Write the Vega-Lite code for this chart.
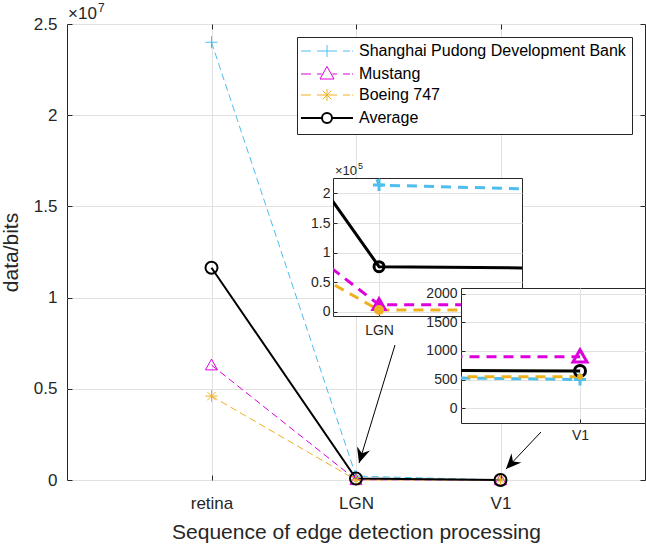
{
  "$schema": "https://vega.github.io/schema/vega-lite/v6.json",
  "autosize": {"type": "none"},
  "padding": {"left": 67, "top": 24, "right": 579, "bottom": 520},
  "background": "white",
  "config": {
    "font": "Liberation Sans",
    "view": {"stroke": null},
    "axis": {
      "labelFont": "Liberation Sans", "titleFont": "Liberation Sans",
      "labelColor": "#262626", "titleColor": "#262626",
      "tickColor": "#262626", "domainColor": "#262626",
      "gridColor": "#e1e1e1", "gridWidth": 1, "gridOpacity": 1,
      "titleFontWeight": "normal", "domain": false, "tickWidth": 1
    }
  },
  "datasets": {
    "bits": [
      {"series": "Shanghai Pudong Development Bank", "stage": 1, "bits": 24000000},
      {"series": "Shanghai Pudong Development Bank", "stage": 2, "bits": 214000},
      {"series": "Shanghai Pudong Development Bank", "stage": 3, "bits": 500},
      {"series": "Mustang", "stage": 1, "bits": 6300000},
      {"series": "Mustang", "stage": 2, "bits": 12000},
      {"series": "Mustang", "stage": 3, "bits": 900},
      {"series": "Boeing 747", "stage": 1, "bits": 4600000},
      {"series": "Boeing 747", "stage": 2, "bits": 3000},
      {"series": "Boeing 747", "stage": 3, "bits": 550},
      {"series": "Average", "stage": 1, "bits": 11633333},
      {"series": "Average", "stage": 2, "bits": 76333},
      {"series": "Average", "stage": 3, "bits": 650}
    ]
  },
  "hconcat": [
    {
      "vconcat": [
        {
          "width": 578, "height": 456,
          "view": {"stroke": "#262626", "strokeWidth": 1},
          "data": {"name": "bits"},
          "resolve": {"axis": {"x": "independent", "y": "independent"}},
          "layer": [
            {
              "transform": [{"filter": "datum.series !== 'Average'"}],
              "mark": {"type": "line", "strokeWidth": 1, "strokeDash": [7, 4]},
              "encoding": {
                "x": {"field": "stage", "type": "quantitative",
                  "scale": {"domain": [0, 4], "nice": false, "zero": false},
                  "axis": {"values": [1, 2, 3], "labelExpr": "datum.value == 1 ? 'retina' : datum.value == 2 ? 'LGN' : 'V1'", "labelFontSize": 17, "tickSize": -5, "labelPadding": 20, "grid": true, "title": "Sequence of edge detection processing", "titleFontSize": 21, "titlePadding": 10}},
                "y": {"field": "bits", "type": "quantitative",
                  "scale": {"domain": [0, 25000000], "nice": false},
                  "axis": {"values": [0, 5000000, 10000000, 15000000, 20000000, 25000000], "labelExpr": "'' + datum.value / 10000000", "labelFontSize": 17, "tickSize": -5, "labelPadding": 15, "grid": true, "title": "data/bits", "titleFontSize": 21, "titlePadding": 12}},
                "color": {"field": "series", "type": "nominal",
                  "scale": {"domain": ["Shanghai Pudong Development Bank", "Mustang", "Boeing 747", "Average"], "range": ["#4DBEEE", "#DD00DD", "#EDB120", "#000000"]},
                  "legend": {
                    "title": null, "orient": "top-right", "offset": 13,
                    "fillColor": "white", "strokeColor": "#262626", "padding": 6,
                    "labelFont": "Liberation Sans", "labelFontSize": 16, "labelColor": "black", "labelLimit": 500,
                    "symbolSize": 324, "symbolOffset": 16, "labelOffset": 24, "rowPadding": 4,
                    "encode": {"symbols": {"update": {
                      "shape": {"signal": "datum.value === 'Average' ? 'M-2.889,0H-0.556M0.556,0H2.889M0.556,0A0.556,0.556 0 1,1 -0.556,0A0.556,0.556 0 1,1 0.556,0' : datum.value === 'Mustang' ? 'M-2.889,0H-1.778M-1.111,0H-0.6M0.6,0H1.111M1.778,0H2.556M2.778,0H2.889M0,-0.833L0.778,0.556L-0.778,0.556Z' : datum.value === 'Boeing 747' ? 'M-2.889,0H-1.778M-1.111,0H1.111M1.778,0H2.556M2.778,0H2.889M0,-0.667V0.667M-0.47,-0.47L0.47,0.47M-0.47,0.47L0.47,-0.47' : 'M-2.889,0H-1.778M-1.111,0H1.111M1.778,0H2.556M2.778,0H2.889M0,-0.667V0.667'"},
                      "strokeWidth": {"signal": "datum.value === 'Average' ? 2 : 1"},
                      "strokeDash": {"value": []},
                      "fill": {"value": "transparent"},
                      "opacity": {"value": 1}
                    }}}
                  }}
              }
            },
            {
              "transform": [{"filter": "datum.series === 'Average'"}],
              "mark": {"type": "line", "color": "black", "strokeWidth": 2},
              "encoding": {
                "x": {"field": "stage", "type": "quantitative", "scale": {"domain": [0, 4], "nice": false, "zero": false},
                  "axis": {"orient": "top", "values": [1, 2, 3], "labels": false, "tickSize": -5, "grid": false, "title": null}},
                "y": {"field": "bits", "type": "quantitative", "scale": {"domain": [0, 25000000], "nice": false},
                  "axis": {"orient": "right", "values": [0, 5000000, 10000000, 15000000, 20000000, 25000000], "labels": false, "tickSize": -5, "grid": false, "title": null}}
              }
            },
            {
              "transform": [{"filter": "datum.series !== 'Average'"}],
              "mark": {"type": "point", "filled": false, "strokeWidth": 1, "size": 144, "opacity": 1},
              "encoding": {
                "x": {"field": "stage", "type": "quantitative", "scale": {"domain": [0, 4], "nice": false, "zero": false}, "axis": null},
                "y": {"field": "bits", "type": "quantitative", "scale": {"domain": [0, 25000000], "nice": false}, "axis": null},
                "color": {"field": "series", "type": "nominal"},
                "shape": {"field": "series", "type": "nominal",
                  "scale": {"domain": ["Shanghai Pudong Development Bank", "Mustang", "Boeing 747"], "range": ["M-1,0H1M0,-1V1", "M0,-1L1,0.8L-1,0.8Z", "M0,-1V1M-1,0H1M-0.7,-0.7L0.7,0.7M-0.7,0.7L0.7,-0.7"]},
                  "legend": null}
              }
            },
            {
              "transform": [{"filter": "datum.series === 'Average'"}],
              "mark": {"type": "point", "shape": "circle", "filled": false, "strokeWidth": 2, "size": 144, "color": "black", "opacity": 1},
              "encoding": {
                "x": {"field": "stage", "type": "quantitative", "scale": {"domain": [0, 4], "nice": false, "zero": false}, "axis": null},
                "y": {"field": "bits", "type": "quantitative", "scale": {"domain": [0, 25000000], "nice": false}, "axis": null}
              }
            },
            {
              "data": {"values": [{}]},
              "mark": {"type": "rule", "color": "black", "strokeWidth": 1},
              "encoding": {
                "x": {"datum": 2.27, "type": "quantitative", "scale": {"domain": [0, 4], "nice": false, "zero": false}, "axis": null},
                "y": {"datum": 7400000, "type": "quantitative", "scale": {"domain": [0, 25000000], "nice": false}, "axis": null},
                "x2": {"datum": 2.021},
                "y2": {"datum": 930000}
              }
            },
            {
              "data": {"values": [{}]},
              "mark": {"type": "point", "shape": "M0,0L0.8,1.8L0,1.2L-0.8,1.8Z", "size": 289, "angle": 197, "filled": true, "color": "black", "opacity": 1, "strokeWidth": 0},
              "encoding": {
                "x": {"datum": 2.021, "type": "quantitative", "scale": {"domain": [0, 4], "nice": false, "zero": false}, "axis": null},
                "y": {"datum": 930000, "type": "quantitative", "scale": {"domain": [0, 25000000], "nice": false}, "axis": null}
              }
            },
            {
              "data": {"values": [{}]},
              "mark": {"type": "rule", "color": "black", "strokeWidth": 1},
              "encoding": {
                "x": {"datum": 3.28, "type": "quantitative", "scale": {"domain": [0, 4], "nice": false, "zero": false}, "axis": null},
                "y": {"datum": 2630000, "type": "quantitative", "scale": {"domain": [0, 25000000], "nice": false}, "axis": null},
                "x2": {"datum": 3.038},
                "y2": {"datum": 600000}
              }
            },
            {
              "data": {"values": [{}]},
              "mark": {"type": "point", "shape": "M0,0L0.8,1.8L0,1.2L-0.8,1.8Z", "size": 289, "angle": 223, "filled": true, "color": "black", "opacity": 1, "strokeWidth": 0},
              "encoding": {
                "x": {"datum": 3.038, "type": "quantitative", "scale": {"domain": [0, 4], "nice": false, "zero": false}, "axis": null},
                "y": {"datum": 600000, "type": "quantitative", "scale": {"domain": [0, 25000000], "nice": false}, "axis": null}
              }
            },
            {
              "data": {"values": [{}]},
              "mark": {"type": "text", "text": "×10", "fontSize": 17, "align": "left", "baseline": "alphabetic", "dx": 1, "dy": -5, "color": "#262626"},
              "encoding": {
                "x": {"datum": 0, "type": "quantitative", "scale": {"domain": [0, 4], "nice": false, "zero": false}, "axis": null},
                "y": {"datum": 25000000, "type": "quantitative", "scale": {"domain": [0, 25000000], "nice": false}, "axis": null}
              }
            },
            {
              "data": {"values": [{}]},
              "mark": {"type": "text", "text": "7", "fontSize": 12, "align": "left", "baseline": "alphabetic", "dx": 31, "dy": -12, "color": "#262626"},
              "encoding": {
                "x": {"datum": 0, "type": "quantitative", "scale": {"domain": [0, 4], "nice": false, "zero": false}, "axis": null},
                "y": {"datum": 25000000, "type": "quantitative", "scale": {"domain": [0, 25000000], "nice": false}, "axis": null}
              }
            }
          ]
        }
      ],
      "bounds": "flush",
      "resolve": {"scale": {"color": "independent", "shape": "independent"}, "legend": {"color": "independent", "shape": "independent"}}
    },
    {
      "hconcat": [
        {"width": 266, "height": 1, "data": {"values": [{}]}, "mark": {"type": "point", "opacity": 0}},
        {
          "vconcat": [
            {"width": 1, "height": 154, "data": {"values": [{}]}, "mark": {"type": "point", "opacity": 0}},
            {
              "width": 189, "height": 138,
              "view": {"stroke": "#262626", "fill": "white"},
              "data": {"name": "bits"},
              "resolve": {"axis": {"x": "independent", "y": "independent"}},
              "layer": [
                {
                  "transform": [{"filter": "datum.series !== 'Average'"}],
                  "mark": {"type": "line", "strokeWidth": 3, "strokeDash": [10, 7], "clip": true},
                  "encoding": {
                    "x": {"field": "stage", "type": "quantitative", "scale": {"domain": [1.9905, 2.0295], "nice": false, "zero": false},
                      "axis": {"values": [2], "labelExpr": "'LGN'", "labelFontSize": 14, "tickSize": -4, "labelPadding": 11, "grid": true, "title": null}},
                    "y": {"field": "bits", "type": "quantitative", "scale": {"domain": [-7000, 226000], "nice": false, "zero": false},
                      "axis": {"values": [0, 50000, 100000, 150000, 200000], "labelExpr": "'' + datum.value / 100000", "labelFontSize": 14, "tickSize": -4, "labelPadding": 7, "grid": true, "title": null}},
                    "color": {"field": "series", "type": "nominal", "scale": {"domain": ["Shanghai Pudong Development Bank", "Mustang", "Boeing 747", "Average"], "range": ["#4DBEEE", "#DD00DD", "#EDB120", "#000000"]}, "legend": null}
                  }
                },
                {
                  "transform": [{"filter": "datum.series === 'Average'"}],
                  "mark": {"type": "line", "strokeWidth": 3, "color": "black", "clip": true},
                  "encoding": {
                    "x": {"field": "stage", "type": "quantitative", "scale": {"domain": [1.9905, 2.0295], "nice": false, "zero": false}, "axis": null},
                    "y": {"field": "bits", "type": "quantitative", "scale": {"domain": [-7000, 226000], "nice": false, "zero": false}, "axis": null}
                  }
                },
                {
                  "transform": [{"filter": "datum.series === 'Shanghai Pudong Development Bank'"}],
                  "mark": {"type": "point", "shape": "M-1,0H1M0,-1V1", "size": 144, "strokeWidth": 3, "filled": false, "color": "#4DBEEE", "opacity": 1, "clip": true},
                  "encoding": {
                    "x": {"field": "stage", "type": "quantitative", "scale": {"domain": [1.9905, 2.0295], "nice": false, "zero": false}, "axis": null},
                    "y": {"field": "bits", "type": "quantitative", "scale": {"domain": [-7000, 226000], "nice": false, "zero": false}, "axis": null}
                  }
                },
                {
                  "transform": [{"filter": "datum.series === 'Mustang'"}],
                  "mark": {"type": "point", "shape": "M0,-1L1,0.75L-1,0.75Z", "size": 196, "strokeWidth": 2, "filled": true, "fill": "#DD00DD", "stroke": "#DD00DD", "opacity": 1, "clip": true},
                  "encoding": {
                    "x": {"field": "stage", "type": "quantitative", "scale": {"domain": [1.9905, 2.0295], "nice": false, "zero": false}, "axis": null},
                    "y": {"field": "bits", "type": "quantitative", "scale": {"domain": [-7000, 226000], "nice": false, "zero": false}, "axis": null}
                  }
                },
                {
                  "transform": [{"filter": "datum.series === 'Boeing 747'"}],
                  "mark": {"type": "point", "shape": "circle", "size": 100, "filled": true, "color": "#EDB120", "opacity": 1, "clip": true},
                  "encoding": {
                    "x": {"field": "stage", "type": "quantitative", "scale": {"domain": [1.9905, 2.0295], "nice": false, "zero": false}, "axis": null},
                    "y": {"field": "bits", "type": "quantitative", "scale": {"domain": [-7000, 226000], "nice": false, "zero": false}, "axis": null}
                  }
                },
                {
                  "transform": [{"filter": "datum.series === 'Average'"}],
                  "mark": {"type": "point", "shape": "circle", "size": 100, "strokeWidth": 3, "filled": false, "color": "black", "opacity": 1, "clip": true},
                  "encoding": {
                    "x": {"field": "stage", "type": "quantitative", "scale": {"domain": [1.9905, 2.0295], "nice": false, "zero": false}, "axis": null},
                    "y": {"field": "bits", "type": "quantitative", "scale": {"domain": [-7000, 226000], "nice": false, "zero": false}, "axis": null}
                  }
                },
                {
                  "data": {"values": [{}]},
                  "mark": {"type": "text", "text": "×10", "fontSize": 13, "align": "left", "baseline": "alphabetic", "dx": 2, "dy": -3, "color": "#262626", "clip": false},
                  "encoding": {
                    "x": {"datum": 1.9905, "type": "quantitative", "scale": {"domain": [1.9905, 2.0295], "nice": false, "zero": false}, "axis": null},
                    "y": {"datum": 226000, "type": "quantitative", "scale": {"domain": [-7000, 226000], "nice": false, "zero": false}, "axis": null}
                  }
                },
                {
                  "data": {"values": [{}]},
                  "mark": {"type": "text", "text": "5", "fontSize": 9, "align": "left", "baseline": "alphabetic", "dx": 25, "dy": -9, "color": "#262626", "clip": false},
                  "encoding": {
                    "x": {"datum": 1.9905, "type": "quantitative", "scale": {"domain": [1.9905, 2.0295], "nice": false, "zero": false}, "axis": null},
                    "y": {"datum": 226000, "type": "quantitative", "scale": {"domain": [-7000, 226000], "nice": false, "zero": false}, "axis": null}
                  }
                }
              ]
            }
          ],
          "spacing": 0, "bounds": "flush"
        }
      ],
      "spacing": 0, "bounds": "flush"
    },
    {
      "hconcat": [
        {"width": 394, "height": 1, "data": {"values": [{}]}, "mark": {"type": "point", "opacity": 0}},
        {
          "vconcat": [
            {"width": 1, "height": 264, "data": {"values": [{}]}, "mark": {"type": "point", "opacity": 0}},
            {
              "width": 184, "height": 135,
              "view": {"stroke": "#262626", "fill": "white"},
              "data": {"name": "bits"},
              "encoding": {
                "x": {"field": "stage", "type": "quantitative", "scale": {"domain": [2.999881, 3.000065], "nice": false, "zero": false},
                  "axis": {"values": [3], "labelExpr": "'V1'", "labelFontSize": 14, "tickSize": -4, "labelPadding": 9, "grid": true, "title": null}},
                "y": {"field": "bits", "type": "quantitative", "scale": {"domain": [-263, 2105], "nice": false, "zero": false},
                  "axis": {"values": [0, 500, 1000, 1500, 2000], "labelExpr": "'' + datum.value", "labelFontSize": 14, "tickSize": -4, "labelPadding": 8, "grid": true, "title": null}}
              },
              "layer": [
                {
                  "transform": [{"filter": "datum.series !== 'Average'"}],
                  "mark": {"type": "line", "strokeWidth": 3, "strokeDash": [10, 7], "clip": true},
                  "encoding": {"color": {"field": "series", "type": "nominal", "scale": {"domain": ["Shanghai Pudong Development Bank", "Mustang", "Boeing 747", "Average"], "range": ["#4DBEEE", "#DD00DD", "#EDB120", "#000000"]}, "legend": null}}
                },
                {
                  "transform": [{"filter": "datum.series === 'Average'"}],
                  "mark": {"type": "line", "strokeWidth": 3, "color": "black", "clip": true}
                },
                {
                  "transform": [{"filter": "datum.series === 'Shanghai Pudong Development Bank'"}],
                  "mark": {"type": "point", "shape": "M-1,0H1M0,-1V1", "size": 144, "strokeWidth": 3, "filled": false, "color": "#4DBEEE", "opacity": 1, "clip": true}
                },
                {
                  "transform": [{"filter": "datum.series === 'Mustang'"}],
                  "mark": {"type": "point", "shape": "M0,-1L1,0.75L-1,0.75Z", "size": 196, "strokeWidth": 3, "filled": false, "color": "#DD00DD", "opacity": 1, "clip": true}
                },
                {
                  "transform": [{"filter": "datum.series === 'Average'"}],
                  "mark": {"type": "point", "shape": "circle", "size": 121, "strokeWidth": 3, "filled": false, "color": "black", "opacity": 1, "clip": true}
                },
                {
                  "transform": [{"filter": "datum.series === 'Boeing 747'"}],
                  "mark": {"type": "point", "shape": "circle", "size": 36, "filled": true, "color": "#EDB120", "opacity": 1, "clip": true}
                }
              ]
            }
          ],
          "spacing": 0, "bounds": "flush"
        }
      ],
      "spacing": 0, "bounds": "flush"
    }
  ],
  "spacing": 0,
  "bounds": "flush",
  "resolve": {"scale": {"color": "independent", "shape": "independent"}, "legend": {"color": "independent", "shape": "independent"}}
}
